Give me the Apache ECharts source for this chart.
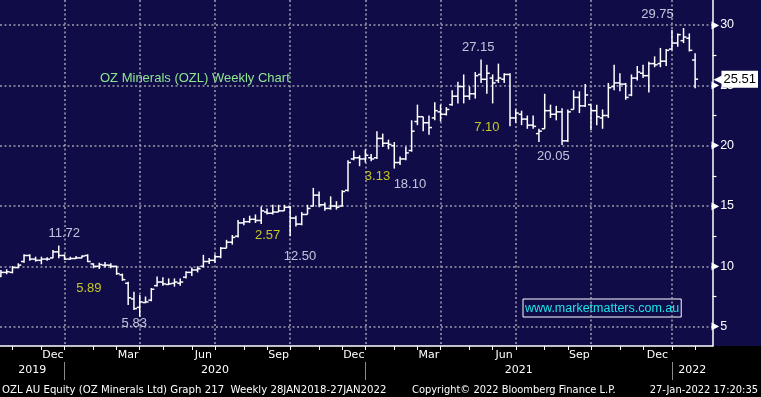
<!DOCTYPE html>
<html>
<head>
<meta charset="utf-8">
<script src="https://cdn.jsdelivr.net/npm/echarts@6/dist/echarts.min.js"></script>
<style>
  html, body { margin: 0; padding: 0; background: #000; }
  #chart { width: 761px; height: 397px; }
</style>
</head>
<body>
<div id="chart"></div>
<script>
// weekly bars, Friday closes, last bar is the partial week to 27 Jan 2022
const firstWeek = '2019-10-11';
const lastDate = '2022-01-27';

const opens = [
  9.2, 9.5, 9.5, 9.9, 10.4, 10.9, 10.6, 10.5, 10.6, 10.7,
  11.2, 10.9, 10.6, 10.65, 10.7, 10.9, 10.2, 10.0, 10.1, 10.1,
  10.0, 9.3, 8.6, 7.3, 6.6, 7.0, 7.2, 8.4, 8.7, 8.5,
  8.6, 8.6, 9.1, 9.5, 9.7, 10.0, 10.4, 10.5, 10.8, 11.5,
  12.0, 12.5, 13.6, 13.7, 13.9, 13.8, 14.5, 14.4, 14.5, 14.6,
  14.9, 14.0, 13.5, 14.3, 15.0, 15.9, 15.1, 14.8, 15.0, 15.0,
  16.3, 18.9, 19.0, 18.9, 19.0, 19.0, 20.6, 20.2, 20.0, 18.6,
  18.9, 19.6, 22.0, 22.4, 21.9, 22.3, 22.8, 22.6, 23.4, 24.1,
  24.9, 24.1, 24.3, 25.9, 25.5, 25.6, 25.4, 25.5, 25.9, 22.3,
  22.6, 22.2, 21.7, 21.0, 21.4, 22.9, 22.6, 22.8, 20.4, 23.0,
  24.0, 23.3, 23.4, 22.9, 22.3, 22.5, 24.9, 25.2, 25.1, 24.2,
  25.6, 26.0, 25.8, 26.8, 26.8, 27.0, 28.0, 28.5, 28.7, 28.9,
  27.1
];
const highs = [
  9.7, 9.76, 10.03, 10.25, 11.0, 11.0, 10.8, 10.8, 10.75, 11.36,
  11.72, 11.0, 10.8, 10.85, 10.9, 11.0, 10.25, 10.3, 10.35, 10.25,
  10.05, 9.4, 8.73, 7.9, 7.63, 7.5, 8.2, 9.15, 9.1, 9.0,
  9.0, 9.0, 9.6, 9.9, 10.0, 10.95, 10.7, 11.0, 11.6, 12.2,
  12.6, 13.85, 14.0, 14.2, 14.3, 14.95, 14.8, 15.1, 15.1, 15.1,
  15.0, 14.2, 14.5, 15.1, 16.5, 16.2, 15.3, 15.8, 15.4, 16.3,
  18.8, 19.6, 19.2, 19.7, 19.3, 21.2, 21.0, 20.5, 20.3, 19.1,
  19.9, 22.1, 23.4, 22.4, 22.5, 23.6, 23.4, 23.2, 24.6, 25.3,
  25.9, 24.9, 26.1, 27.15, 26.7, 25.9, 26.8, 26.0, 26.0, 23.0,
  22.9, 22.5, 22.5, 21.4, 24.3, 23.4, 23.3, 23.1, 23.0, 24.6,
  24.5, 25.1, 23.4, 23.4, 23.0, 25.2, 26.7, 26.0, 25.2, 25.9,
  26.6, 26.7, 26.96, 27.4, 28.1, 28.0, 29.6, 29.3, 29.75, 29.3,
  27.65
];
const lows = [
  9.1, 9.35, 9.42, 9.84, 10.3, 10.47, 10.39, 10.17, 10.47, 10.67,
  10.67, 10.53, 10.55, 10.6, 10.67, 10.35, 9.84, 9.78, 9.9, 9.84,
  9.3, 8.8, 6.8, 6.39, 5.83, 6.95, 7.1, 8.32, 8.4, 8.45,
  8.32, 8.4, 9.0, 9.2, 9.5, 9.9, 10.2, 10.3, 10.67, 11.5,
  11.8, 12.4, 13.4, 13.6, 13.6, 13.5, 14.3, 14.3, 14.5, 14.6,
  12.5, 13.3, 13.4, 14.3, 14.95, 14.9, 14.6, 14.7, 14.7, 14.95,
  16.2, 18.8, 18.3, 18.6, 18.7, 18.9, 19.9, 19.7, 18.1, 18.4,
  18.8, 19.5, 21.7, 21.2, 20.9, 22.1, 22.0, 22.5, 23.3, 23.5,
  23.5, 23.8, 23.9, 25.2, 24.3, 23.5, 25.2, 25.2, 21.6, 21.9,
  21.7, 21.4, 21.4, 20.3, 21.4, 22.3, 22.1, 20.05, 20.3, 23.0,
  22.7, 23.2, 21.3, 21.7, 21.4, 22.3, 24.6, 24.5, 23.8, 24.1,
  25.4, 25.6, 24.4, 26.5, 26.5, 26.6, 27.9, 28.2, 28.5, 27.8,
  24.75
];
const closes = [
  9.5, 9.55, 9.9, 10.1, 10.9, 10.6, 10.5, 10.6, 10.6, 11.2,
  10.9, 10.6, 10.65, 10.7, 10.85, 10.4, 10.0, 10.15, 10.1, 10.0,
  9.4, 8.9, 7.4, 6.5, 7.05, 7.05, 8.1, 8.7, 8.55, 8.55,
  8.7, 8.7, 9.5, 9.7, 9.8, 10.4, 10.5, 10.8, 11.5, 12.0,
  12.4, 13.6, 13.7, 13.9, 13.8, 14.6, 14.4, 14.5, 14.6, 14.9,
  14.0, 13.5, 14.3, 14.8, 15.9, 15.1, 14.8, 15.0, 14.9, 16.2,
  18.6, 19.0, 18.9, 19.2, 18.9, 20.6, 20.2, 20.1, 18.6, 18.9,
  19.4, 21.2, 22.4, 21.9, 21.5, 22.9, 22.6, 23.0, 24.1, 24.9,
  24.1, 24.3, 25.8, 25.5, 26.0, 25.2, 25.6, 25.9, 22.3, 22.7,
  22.2, 21.7, 21.6, 21.2, 22.9, 22.6, 22.8, 20.4, 22.8, 24.0,
  23.3, 24.2, 22.9, 22.4, 22.5, 24.8, 25.2, 25.1, 24.0, 25.6,
  26.1, 25.8, 26.8, 26.7, 27.0, 27.9, 28.5, 29.2, 29.0, 27.9,
  25.51
];

const priceTicks = [5, 10, 15, 20, 25, 30];
const priceAllTicks = [5, 7.5, 10, 12.5, 15, 17.5, 20, 22.5, 25, 27.5, 30];
const monthNames = ['Jan', 'Feb', 'Mar', 'Apr', 'May', 'Jun', 'Jul', 'Aug', 'Sep', 'Oct', 'Nov', 'Dec'];
const labelledMonths = [2, 5, 8, 11]; // Mar, Jun, Sep, Dec

// text notes: [text, week position, price, colour]
const notes = [
  ['29.75', 113.5, 30.9, '#eef0ff'],
  ['27.15', 82.5, 28.1, '#eef0ff'],
  ['7.10', 84.0, 21.55, '#f2f21e'],
  ['20.05', 95.5, 19.1, '#eef0ff'],
  ['18.10', 70.7, 16.75, '#eef0ff'],
  ['3.13', 65.1, 17.47, '#f2f21e'],
  ['2.57', 46.1, 12.6, '#f2f21e'],
  ['12.50', 51.7, 10.85, '#eef0ff'],
  ['11.72', 10.95, 12.7, '#eef0ff'],
  ['5.89', 15.2, 8.15, '#f2f21e'],
  ['5.83', 23.05, 5.29, '#eef0ff']
];

// weekly calendar for the bars
const weeks = [];
for (let d = new Date(firstWeek + 'T00:00:00Z'); weeks.length < closes.length - 1; d.setUTCDate(d.getUTCDate() + 7)) {
  weeks.push(d.toISOString().slice(0, 10));
}
weeks.push(lastDate);
const monthOf = s => +s.slice(5, 7) - 1;
const yearOf = s => +s.slice(0, 4);

const xMin = -0.155, xMax = 123.0;
const yMin = 3.40, yMax = 32.07;

// Bloomberg puts month ticks on the last bar of each month
const monthEnds = [];
weeks.forEach((w, i) => {
  if (i === weeks.length - 1 || monthOf(weeks[i + 1]) !== monthOf(w)) monthEnds.push(i);
});
const quarterEnds = monthEnds.filter(i => labelledMonths.includes(monthOf(weeks[i])));
const monthLabelPos = [], monthLabelText = {};
monthEnds.forEach((i, k) => {
  if (k === 0 || !labelledMonths.includes(monthOf(weeks[i]))) return;
  const p = (monthEnds[k - 1] + i) / 2;
  monthLabelPos.push(p);
  monthLabelText[p] = monthNames[monthOf(weeks[i])];
});
const yearEnds = monthEnds.filter(i => monthOf(weeks[i]) === 11);
const yearEdges = [xMin].concat(yearEnds, [xMax]);
const yearLabelPos = [], yearLabelText = {};
for (let k = 0; k < yearEdges.length - 1; k++) {
  const p = (yearEdges[k] + yearEdges[k + 1]) / 2;
  yearLabelPos.push(p);
  yearLabelText[p] = String(yearOf(weeks[0]) + k);
}

const bars = closes.map((c, i) => [i, opens[i], highs[i], lows[i], c]);
const lastClose = closes[closes.length - 1];

const dotted = { color: '#9a9aa6', width: 1.6, type: [2, 2.5] };
const axisFont = 'DejaVu Sans';

const chart = echarts.init(document.getElementById('chart'));
chart.setOption({
  animation: false,
  backgroundColor: '#000',
  grid: { left: 0, right: 43, top: 0, bottom: 51 },
  graphic: [
    { type: 'rect', z: -10, shape: { x: 0, y: 0, width: 761, height: 346 }, style: { fill: '#0f0c48' } },
    { type: 'text', x: 100, y: 78, style: { text: 'OZ Minerals (OZL) Weekly Chart', fill: '#8fe88f', font: '13px "Liberation Sans"', verticalAlign: 'middle' } },
    { type: 'text', x: 523, y: 299, style: { text: 'www.marketmatters.com.au', fill: '#1ee4ea', font: '12.5px "Liberation Sans"', borderColor: '#fff', borderWidth: 1, padding: [3, 2, 2, 2] } },
    { type: 'text', x: 2, y: 390, style: { text: 'OZL AU Equity (OZ Minerals Ltd) Graph 217  Weekly 28JAN2018-27JAN2022', fill: '#fff', font: '11.3px "DejaVu Sans Condensed", "DejaVu Sans"', verticalAlign: 'middle' } },
    { type: 'text', x: 412, y: 390, style: { text: 'Copyright\u00a9 2022 Bloomberg Finance L.P.', fill: '#fff', font: '11px "DejaVu Sans Condensed", "DejaVu Sans"', verticalAlign: 'middle' } },
    { type: 'text', x: 758, y: 390, style: { text: '27-Jan-2022 17:20:35', fill: '#fff', font: '11px "DejaVu Sans Condensed", "DejaVu Sans"', align: 'right', verticalAlign: 'middle' } }
  ],
  xAxis: [
    {
      type: 'value', min: xMin, max: xMax, position: 'bottom',
      axisLine: { show: true, onZero: false, lineStyle: { color: '#fff', width: 1.5 } },
      axisTick: { show: true, customValues: monthEnds, length: 4, lineStyle: { color: '#fff', width: 1 } },
      axisLabel: { customValues: monthLabelPos, formatter: v => monthLabelText[v] || '', color: '#fff', fontFamily: axisFont, fontSize: 11, margin: 4, alignMinLabel: 'center', alignMaxLabel: 'center' },
      splitLine: { show: false }
    },
    {
      type: 'value', min: xMin, max: xMax, position: 'bottom',
      axisLine: { show: false, onZero: false },
      axisTick: { show: false, customValues: quarterEnds },
      axisLabel: { show: false },
      splitLine: { show: true, lineStyle: dotted }
    },
    {
      type: 'value', min: xMin, max: xMax, position: 'bottom', offset: 16,
      axisLine: { show: false, onZero: false },
      axisTick: { show: true, customValues: yearEnds, length: 18, lineStyle: { color: '#8a8a8a', width: 1 } },
      axisLabel: { customValues: yearLabelPos, formatter: v => yearLabelText[v] || '', color: '#fff', fontFamily: axisFont, fontSize: 11, margin: 3, alignMinLabel: 'center', alignMaxLabel: 'center' },
      splitLine: { show: false }
    }
  ],
  yAxis: [
    {
      type: 'value', position: 'right', min: yMin, max: yMax,
      axisLine: { show: true, onZero: false, lineStyle: { color: '#fff', width: 1.5 } },
      axisTick: { show: true, customValues: priceAllTicks, length: 4, lineStyle: { color: '#fff', width: 1.2 } },
      axisLabel: {
        customValues: priceTicks, margin: -1,
        formatter: v => '{t|\u25B6}{v|' + v + '}',
        rich: {
          t: { color: '#fff', fontSize: 10, fontFamily: 'DejaVu Sans' },
          v: { color: '#fff', fontSize: 12.5, fontFamily: 'Liberation Sans', padding: [0, 0, 0, 1] }
        }
      },
      splitLine: { show: false }
    },
    {
      type: 'value', position: 'right', min: yMin, max: yMax,
      axisLine: { show: false, onZero: false },
      axisTick: { show: false, customValues: priceTicks },
      axisLabel: { show: false },
      splitLine: { show: true, lineStyle: dotted }
    },
    {
      type: 'value', position: 'right', min: yMin, max: yMax, z: 5,
      axisLine: { show: false, onZero: false },
      axisTick: { show: false, customValues: [lastClose] },
      axisLabel: {
        customValues: [lastClose], margin: 1,
        formatter: v => '{a|\u25C0}{b|' + v.toFixed(2) + '}',
        rich: {
          a: { color: '#fff', fontSize: 13, fontFamily: 'DejaVu Sans', padding: [0, -2, 0, 0] },
          b: { color: '#000', backgroundColor: '#fff', fontSize: 13, fontFamily: 'Liberation Sans', padding: [2, 2, 2, 2] }
        }
      },
      splitLine: { show: false }
    }
  ],
  series: [
    {
      name: 'OZL', type: 'custom', xAxisIndex: 0, yAxisIndex: 0,
      data: bars,
      renderItem: (params, api) => {
        const x = api.value(0);
        const hi = api.coord([x, api.value(2)]);
        const lo = api.coord([x, api.value(3)]);
        const op = api.coord([x, api.value(1)]);
        const cl = api.coord([x, api.value(4)]);
        const style = { stroke: '#fff', lineWidth: 1.5 };
        return {
          type: 'group',
          children: [
            { type: 'line', shape: { x1: hi[0], y1: hi[1], x2: lo[0], y2: lo[1] }, style },
            { type: 'line', shape: { x1: op[0] - 3, y1: op[1], x2: op[0], y2: op[1] }, style },
            { type: 'line', shape: { x1: cl[0], y1: cl[1], x2: cl[0] + 3, y2: cl[1] }, style }
          ]
        };
      }
    },
    {
      name: 'notes', type: 'scatter', xAxisIndex: 0, yAxisIndex: 0,
      symbolSize: 0, silent: true,
      data: notes.map(n => ({ name: n[0], value: [n[1], n[2]], label: { color: n[3] } })),
      label: { show: true, position: 'inside', formatter: '{b}', fontSize: 13, fontFamily: 'Liberation Sans' }
    }
  ]
});
</script>
</body>
</html>
